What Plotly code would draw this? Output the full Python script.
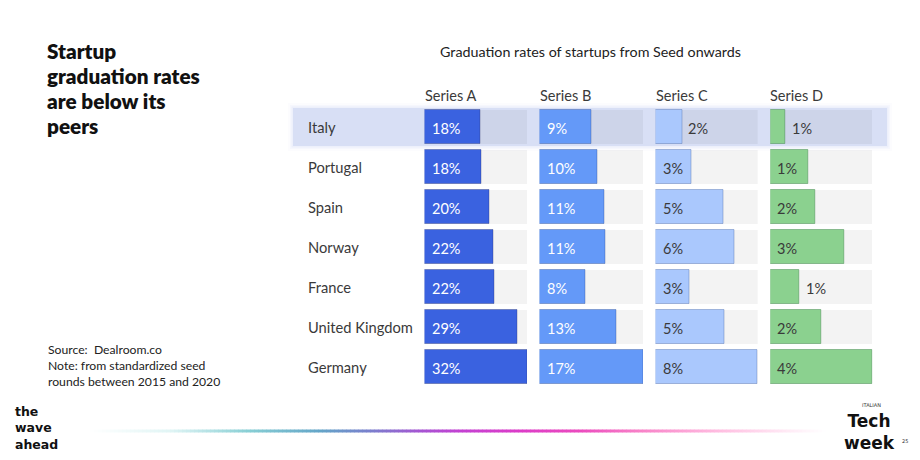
import plotly.graph_objects as go

countries = ["Italy", "Portugal", "Spain", "Norway", "France", "United Kingdom", "Germany"]
series_names = ["Series A", "Series B", "Series C", "Series D"]

series_a = [17.4, 17.9, 20.3, 21.5, 21.9, 29.1, 32.0]
series_b = [8.6, 9.5, 10.6, 10.9, 7.5, 12.7, 17.0]
series_c = [2.1, 2.8, 5.3, 6.2, 2.7, 5.4, 8.0]
series_d = [0.6, 1.5, 1.75, 2.9, 1.15, 2.0, 4.0]

labels_a = ["18%", "18%", "20%", "22%", "22%", "29%", "32%"]
labels_b = ["9%", "10%", "11%", "11%", "8%", "13%", "17%"]
labels_c = ["2%", "3%", "5%", "6%", "3%", "5%", "8%"]
labels_d = ["1%", "1%", "2%", "3%", "1%", "2%", "4%"]

W, H = 920, 460
FONT = "Lato"

values = [series_a, series_b, series_c, series_d]
labels = [labels_a, labels_b, labels_c, labels_d]
colors = ["#3a62e0", "#6499f8", "#aac8fd", "#8bd18f"]
edge = ["rgba(40,50,110,0.35)", "rgba(40,70,140,0.35)", "rgba(90,120,180,0.45)", "rgba(60,130,70,0.45)"]
txtcol = ["#ffffff", "#ffffff", "#3a3a3a", "#3a3a3a"]
domains_px = [(424.5, 527), (539.5, 643), (655.5, 757.7), (770.3, 872.7)]

def px(x):
    return x / W

def py(y):
    return 1 - y / H

fig = go.Figure()
ypos = list(range(len(countries)))
annotations = []
shapes = []

# Highlight row (Italy) with soft glow
for grow, op in [(5, 0.05), (3, 0.09), (1.5, 0.15)]:
    shapes.append(dict(type="rect", xref="paper", yref="paper", layer="below",
                       x0=px(293 - grow), x1=px(887 + grow), y0=py(146 + grow), y1=py(108 - grow),
                       line=dict(width=0), fillcolor="rgba(190,200,240,%s)" % op))
shapes.append(dict(type="rect", xref="paper", yref="paper", layer="below",
                   x0=px(293), x1=px(887), y0=py(146), y1=py(108),
                   line=dict(width=0), fillcolor="#d8dff5"))

for k in range(4):
    xa = "x" if k == 0 else "x%d" % (k + 1)
    vmax = max(values[k])
    fig.add_trace(go.Bar(x=[vmax] * len(countries), y=ypos, orientation="h", base=0,
                         xaxis=xa, yaxis="y", width=0.86,
                         marker=dict(color="rgba(0,0,0,0.047)", line=dict(width=0)),
                         hoverinfo="skip", showlegend=False))
    fig.add_trace(go.Bar(x=values[k], y=ypos, orientation="h", base=0,
                         xaxis=xa, yaxis="y", width=0.86, name=series_names[k],
                         marker=dict(color=colors[k], line=dict(width=1, color=edge[k])),
                         showlegend=False))
    for i, v in enumerate(values[k]):
        outside = v / vmax < 0.32
        annotations.append(dict(xref=xa, yref="y", x=v if outside else 0, y=i,
                                text=labels[k][i], showarrow=False, xanchor="left",
                                yanchor="middle", xshift=4 if outside else 5, yshift=-1,
                                font=dict(family=FONT, size=14.5,
                                          color="#3a3a3a" if outside else txtcol[k])))
    annotations.append(dict(xref="paper", yref="paper", x=px(domains_px[k][0] - 2), y=py(95),
                            text=series_names[k], showarrow=False, xanchor="left",
                            yanchor="middle", font=dict(family=FONT, size=14.5, color="#3a3a3a")))

for i, c in enumerate(countries):
    annotations.append(dict(xref="paper", yref="y", x=px(305.5), y=i, text=c, showarrow=False,
                            xanchor="left", yanchor="middle",
                            font=dict(family=FONT, size=14.7, color="#3a3a3a")))

annotations.append(dict(xref="paper", yref="paper", x=px(590), y=py(51),
                        text="Graduation rates of startups from Seed onwards", showarrow=False,
                        xanchor="center", yanchor="middle",
                        font=dict(family=FONT, size=14.3, color="#222222")))

for j, line in enumerate(["Startup", "graduation rates", "are below its", "peers"]):
    annotations.append(dict(xref="paper", yref="paper", x=px(45), y=py(51 + 25 * j),
                            text=line, showarrow=False, xanchor="left",
                            yanchor="middle",
                            font=dict(family=FONT, size=20.7, color="#111111", weight=800)))

for j, line in enumerate(["Source:  Dealroom.co", "Note: from standardized seed",
                          "rounds between 2015 and 2020"]):
    annotations.append(dict(xref="paper", yref="paper", x=px(46), y=py(349 + 16 * j),
                            text=line, showarrow=False, xanchor="left", yanchor="middle",
                            font=dict(family=FONT, size=12.2, color="#222222")))

# logos
annotations.append(dict(xref="paper", yref="paper", x=px(13), y=py(428),
                        text="the<br>wave<br>ahead",
                        showarrow=False, xanchor="left", yanchor="middle", align="left",
                        font=dict(family="DejaVu Sans", size=12.5, color="#111111", weight=700)))
annotations.append(dict(xref="paper", yref="paper", x=px(869), y=py(432),
                        text="Tech<br>week",
                        showarrow=False, xanchor="center", yanchor="middle", align="center",
                        font=dict(family="DejaVu Sans", size=17, color="#111111", weight=700)))
annotations.append(dict(xref="paper", yref="paper", x=px(871), y=py(405),
                        text="ITALIAN", showarrow=False, xanchor="center", yanchor="middle",
                        font=dict(family="DejaVu Sans", size=5, color="#333333")))
annotations.append(dict(xref="paper", yref="paper", x=px(905), y=py(441),
                        text="25", showarrow=False, xanchor="center", yanchor="middle",
                        font=dict(family="DejaVu Sans", size=5, color="#333333")))

# gradient line (decoration)
stops = [(90, (255, 255, 255)), (170, (225, 245, 245)), (250, (135, 206, 212)),
         (320, (100, 165, 200)), (370, (122, 128, 205)), (420, (165, 85, 210)),
         (460, (195, 65, 210)), (520, (220, 60, 200)), (580, (235, 75, 190)),
         (640, (248, 130, 200)), (720, (255, 190, 225)), (790, (255, 236, 246)),
         (825, (255, 255, 255))]

def col_at(x):
    for (x0, c0), (x1, c1) in zip(stops[:-1], stops[1:]):
        if x0 <= x <= x1:
            t = (x - x0) / (x1 - x0)
            return "rgb(%d,%d,%d)" % tuple(round(a + (b - a) * t) for a, b in zip(c0, c1))
    return "rgb(255,255,255)"

step = 4
xg = 90
while xg < 825:
    shapes.append(dict(type="line", xref="paper", yref="paper", x0=px(xg), x1=px(xg + step + 0.5),
                       y0=py(431), y1=py(431), line=dict(color=col_at(xg + step / 2), width=3)))
    xg += step

layout = dict(
    width=W, height=H, autosize=False,
    margin=dict(l=0, r=0, t=0, b=0),
    paper_bgcolor="white", plot_bgcolor="rgba(0,0,0,0)",
    barmode="overlay", bargap=0,
    showlegend=False,
    annotations=annotations, shapes=shapes,
    yaxis=dict(range=[6.5, -0.5], domain=[py(387), py(107)], visible=False, fixedrange=True),
    font=dict(family=FONT),
)
for k in range(4):
    key = "xaxis" if k == 0 else "xaxis%d" % (k + 1)
    layout[key] = dict(domain=[px(domains_px[k][0]), px(domains_px[k][1])],
                       range=[0, max(values[k])], visible=False, anchor="y", fixedrange=True)
fig.update_layout(**layout)
fig.write_html("out.html")
